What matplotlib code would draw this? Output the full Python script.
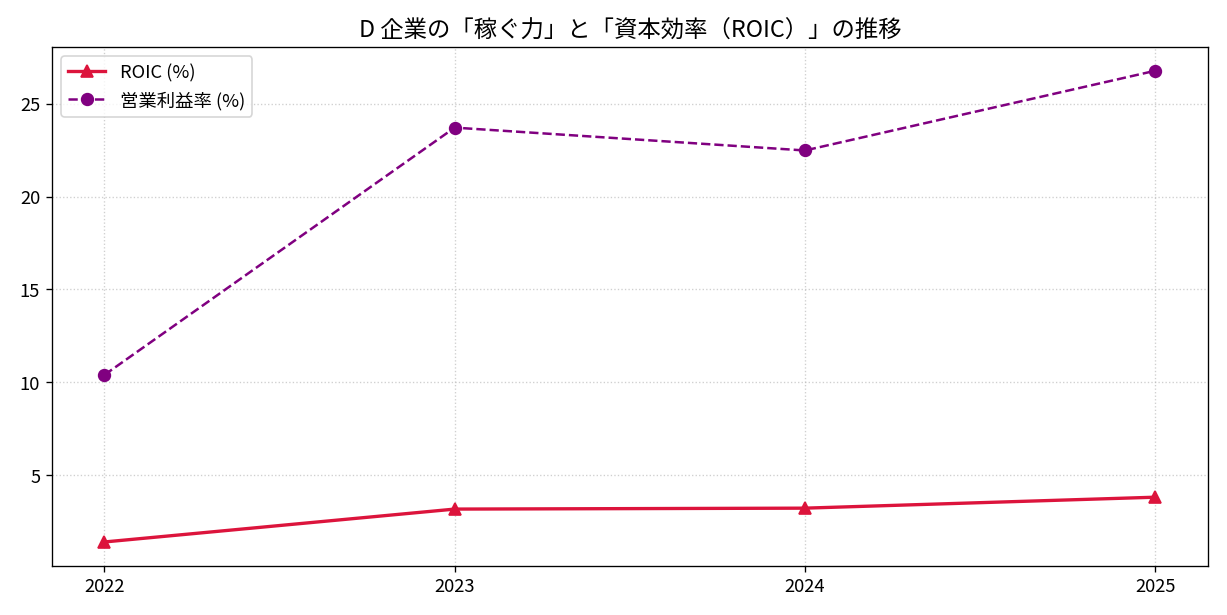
import matplotlib
import matplotlib.pyplot as plt

matplotlib.use("agg")
plt.rcParams["font.family"] = ["Noto Sans CJK JP", "DejaVu Sans"]
plt.rcParams["font.size"] = 11

years = ["2022", "2023", "2024", "2025"]
roic = [1.41, 3.18, 3.23, 3.82]
op_margin = [10.4, 23.71, 22.48, 26.77]

fig, ax = plt.subplots(figsize=(10.23, 5.13), dpi=120)
ax.plot(years, roic, marker="^", color="crimson", linewidth=2,
        markersize=7, label="ROIC (%)")
ax.plot(years, op_margin, marker="o", color="purple", linestyle="--",
        linewidth=1.5, markersize=7, label="営業利益率 (%)")
ax.set_title("D 企業の「稼ぐ力」と「資本効率（ROIC）」の推移", fontsize=14)
ax.grid(True, linestyle=":", alpha=0.6)
ax.legend(loc="upper left")
fig.tight_layout()
fig.savefig("out.png")
